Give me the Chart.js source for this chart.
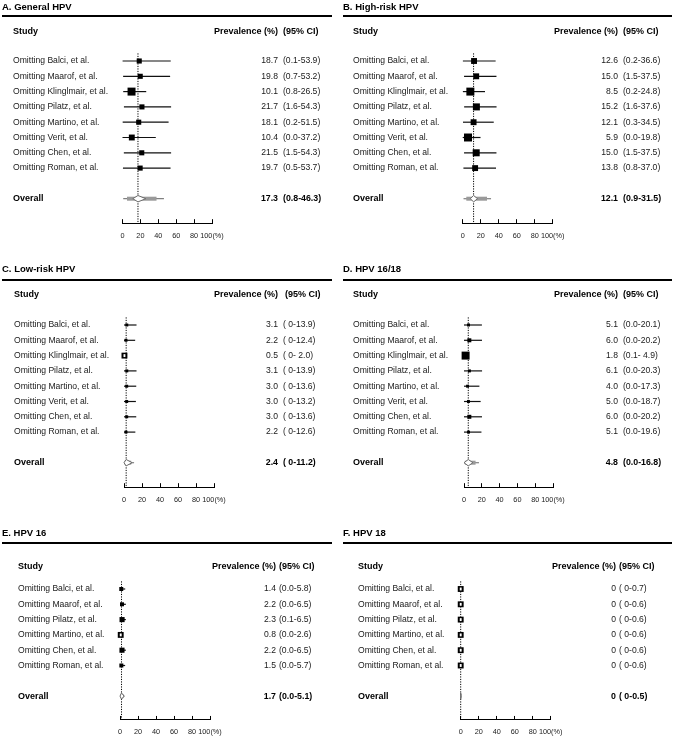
<!DOCTYPE html>
<html lang="en">
<head>
<meta charset="UTF-8">
<title>Leave-one-out HPV prevalence</title>
<script src="https://cdn.jsdelivr.net/npm/chart.js@4.4.0/dist/chart.umd.min.js"></script>
<style>
  body { margin: 0; background: #fff; }
  #page { position: relative; width: 675px; height: 754px; overflow: hidden; }
  #page canvas { position: absolute; }
</style>
</head>
<body>
<div id="page"></div>
<script>
// ---- data ----
const studies8 = ["Omitting Balci, et al.", "Omitting Maarof, et al.", "Omitting Klinglmair, et al.", "Omitting Pilatz, et al.",
                  "Omitting Martino, et al.", "Omitting Verit, et al.", "Omitting Chen, et al.", "Omitting Roman, et al."];
const studies6 = ["Omitting Balci, et al.", "Omitting Maarof, et al.", "Omitting Pilatz, et al.",
                  "Omitting Martino, et al.", "Omitting Chen, et al.", "Omitting Roman, et al."];
const tickValues = [0, 20, 40, 60, 80, 100];
const tickLabels = ["0", "20", "40", "60", "80", "100(%)"];

// A. General HPV
const generalEst = [18.7, 19.8, 10.1, 21.7, 18.1, 10.4, 21.5, 19.7];
const generalLo = [0.1, 0.7, 0.8, 1.6, 0.2, 0.0, 1.5, 0.5];
const generalHi = [53.9, 53.2, 26.5, 54.3, 51.5, 37.2, 54.3, 53.7];
const generalCI = ["(0.1-53.9)", "(0.7-53.2)", "(0.8-26.5)", "(1.6-54.3)", "(0.2-51.5)", "(0.0-37.2)", "(1.5-54.3)", "(0.5-53.7)"];
const generalWeight = [9, 9, 22, 9, 9, 12, 9, 9];
const generalOverall = [17.3, 0.8, 46.3];
const generalOverallCI = "(0.8-46.3)";
const generalBand = [5, 38];
const generalDiamond = [11.5, 26];

// B. High-risk HPV
const highEst = [12.6, 15.0, 8.5, 15.2, 12.1, 5.9, 15.0, 13.8];
const highLo = [0.2, 1.5, 0.2, 1.6, 0.3, 0.0, 1.5, 0.8];
const highHi = [36.6, 37.5, 24.8, 37.6, 34.5, 19.8, 37.5, 37.0];
const highCI = ["(0.2-36.6)", "(1.5-37.5)", "(0.2-24.8)", "(1.6-37.6)", "(0.3-34.5)", "(0.0-19.8)", "(1.5-37.5)", "(0.8-37.0)"];
const highWeight = [12, 12, 22, 17, 12, 22, 17, 12];
const highOverall = [12.1, 0.9, 31.5];
const highOverallCI = "(0.9-31.5)";
const highBand = [4, 27];
const highDiamond = [8.5, 16.5];

// C. Low-risk HPV
const lowEst = [3.1, 2.2, 0.5, 3.1, 3.0, 3.0, 3.0, 2.2];
const lowLo = [0, 0, 0, 0, 0, 0, 0, 0];
const lowHi = [13.9, 12.4, 2.0, 13.9, 13.6, 13.2, 13.6, 12.6];
const lowCI = ["( 0-13.9)", "( 0-12.4)", "( 0- 2.0)", "( 0-13.9)", "( 0-13.6)", "( 0-13.2)", "( 0-13.6)", "( 0-12.6)"];
const lowWeight = [3, 3, 12, 3, 3, 3, 3, 3];
const lowOverall = [2.4, 0, 11.2];
const lowOverallCI = "( 0-11.2)";
const lowBand = [0.5, 8];
const lowDiamond = [0, 9];

// D. HPV 16/18
const hpv1618Est = [5.1, 6.0, 1.8, 6.1, 4.0, 5.0, 6.0, 5.1];
const hpv1618Lo = [0, 0, 0.1, 0, 0, 0, 0, 0];
const hpv1618Hi = [20.1, 20.2, 4.9, 20.3, 17.3, 18.7, 20.2, 19.6];
const hpv1618CI = ["(0.0-20.1)", "(0.0-20.2)", "(0.1- 4.9)", "(0.0-20.3)", "(0.0-17.3)", "(0.0-18.7)", "(0.0-20.2)", "(0.0-19.6)"];
const hpv1618Weight = [3, 5.5, 22, 3, 3, 3, 5.5, 3];
const hpv1618Overall = [4.8, 0, 16.8];
const hpv1618OverallCI = "(0.0-16.8)";
const hpv1618Band = [1, 13];
const hpv1618Diamond = [0, 10];

// E. HPV 16
const hpv16Est = [1.4, 2.2, 2.3, 0.8, 2.2, 1.5];
const hpv16Lo = [0, 0, 0.1, 0, 0, 0];
const hpv16Hi = [5.8, 6.5, 6.5, 2.6, 6.5, 5.7];
const hpv16CI = ["(0.0-5.8)", "(0.0-6.5)", "(0.1-6.5)", "(0.0-2.6)", "(0.0-6.5)", "(0.0-5.7)"];
const hpv16Weight = [5.5, 5.5, 9, 12, 9, 5.5];
const hpv16Overall = [1.7, 0, 5.1];
const hpv16OverallCI = "(0.0-5.1)";
const hpv16Band = [0.3, 4];
const hpv16Diamond = [0, 4.5];

// F. HPV 18
const hpv18Est = [0, 0, 0, 0, 0, 0];
const hpv18Lo = [0, 0, 0, 0, 0, 0];
const hpv18Hi = [0.7, 0.6, 0.6, 0.6, 0.6, 0.6];
const hpv18CI = ["( 0-0.7)", "( 0-0.6)", "( 0-0.6)", "( 0-0.6)", "( 0-0.6)", "( 0-0.6)"];
const hpv18Weight = [12, 12, 12, 12, 12, 12];
const hpv18Overall = [0, 0, 0.5];
const hpv18OverallCI = "( 0-0.5)";
const hpv18Band = [0, 0.5];
const hpv18Diamond = [0, 0.5];

// ---- layout ----
const PITCH = 15.3;
const FONT = '"Liberation Sans", Arial, sans-serif';

function fmtEst(v) { return v === 0 ? '0' : v.toFixed(1); }

function makePanel(L, p) {
  const canvas = document.createElement('canvas');
  canvas.width = L.w; canvas.height = L.h;
  canvas.style.left = L.left + 'px'; canvas.style.top = L.top + 'px';
  document.getElementById('page').appendChild(canvas);

  const n = p.names.length;
  const overallRow = n + 1;
  const datasets = [];

  // boxes (first = drawn on top)
  datasets.push({
    data: p.est.map((v, i) => ({ x: v, y: i })),
    showLine: false, pointStyle: 'rect', clip: false,
    pointRadius: p.weight.map(w => 1.7 * Math.sqrt(w) / Math.SQRT2),
    pointBackgroundColor: '#000', borderColor: '#000', pointBorderWidth: 0
  });
  // study confidence intervals
  for (let i = 0; i < n; i++) {
    datasets.push({ data: [{ x: p.lo[i], y: i }, { x: p.hi[i], y: i }], borderColor: '#111', borderWidth: 1.2, pointRadius: 0, clip: false });
  }
  // overall: band and thin line
  datasets.push({ data: [{ x: p.band[0], y: overallRow }, { x: p.band[1], y: overallRow }], borderColor: '#9a9a9a', borderWidth: 4, pointRadius: 0, clip: false });
  datasets.push({ data: [{ x: p.overall[1], y: overallRow }, { x: p.overall[2], y: overallRow }], borderColor: '#808080', borderWidth: 1.2, pointRadius: 0, clip: false });
  // dotted line at the pooled estimate
  datasets.push({ data: [{ x: p.overall[0], y: -0.5 }, { x: p.overall[0], y: L.yMax }], borderColor: '#000', borderWidth: 1, borderDash: [1.2, 1.3], pointRadius: 0, clip: false });

  const forestText = {
    id: 'forestText',
    afterDatasetsDraw(chart) {
      const ctx = chart.ctx, xs = chart.scales.x, ys = chart.scales.y;
      ctx.save();
      // hollow centre on boxes whose interval is narrower than the box
      ctx.fillStyle = '#fff';
      for (let i = 0; i < n; i++) {
        if (p.hi[i] - p.lo[i] < 3) {
          const s = 1.7 * Math.sqrt(p.weight[i]) - 3;
          const cx = xs.getPixelForValue(p.est[i]), cy = ys.getPixelForValue(i);
          ctx.fillRect(cx - s / 2 + 0.5, cy - s / 2, s - 1, s);
        }
      }
      // overall diamond
      const dy = ys.getPixelForValue(overallRow);
      const dl = xs.getPixelForValue(p.diamond[0]), dr = xs.getPixelForValue(p.diamond[1]);
      const dc = xs.getPixelForValue(p.overall[0]);
      ctx.beginPath();
      ctx.moveTo(dl, dy); ctx.lineTo(dc, dy - 3.2); ctx.lineTo(dr, dy); ctx.lineTo(dc, dy + 3.2); ctx.closePath();
      ctx.fillStyle = '#fff'; ctx.fill();
      ctx.strokeStyle = '#6a6a6a'; ctx.lineWidth = 1; ctx.stroke();
      ctx.restore();
    },
    afterDraw(chart) {
      const ctx = chart.ctx, ys = chart.scales.y;
      ctx.save();
      ctx.textBaseline = 'middle';
      ctx.fillStyle = '#000';
      ctx.font = 'bold 9.5px ' + FONT;
      ctx.textAlign = 'left';
      ctx.fillText(p.title, L.titleX, L.titleY);
      ctx.fillRect(L.ruleX[0], L.ruleY - 1, L.ruleX[1] - L.ruleX[0], 2);

      ctx.font = 'bold 9px ' + FONT;
      ctx.fillText('Study', L.nameX, L.headY);
      ctx.textAlign = 'right';
      ctx.fillText('Prevalence (%)', L.estX, L.headY);
      ctx.textAlign = 'left';
      ctx.fillText('(95% CI)', L.hdrCiX, L.headY);

      ctx.fillStyle = '#1a1a1a';
      ctx.font = '8.6px ' + FONT;
      for (let i = 0; i < n; i++) {
        const y = ys.getPixelForValue(i);
        ctx.textAlign = 'left';
        ctx.fillText(p.names[i], L.nameX, y);
        ctx.textAlign = 'right';
        ctx.fillText(fmtEst(p.est[i]), L.estX, y);
        ctx.textAlign = 'left';
        ctx.fillText(p.ci[i], L.ciX, y);
      }
      const oy = ys.getPixelForValue(overallRow);
      ctx.fillStyle = '#000';
      ctx.font = 'bold 9px ' + FONT;
      ctx.textAlign = 'left';
      ctx.fillText('Overall', L.nameX, oy);
      ctx.font = 'bold 8.8px ' + FONT;
      ctx.textAlign = 'right';
      ctx.fillText(fmtEst(p.overall[0]), L.estX, oy);
      ctx.textAlign = 'left';
      ctx.fillText(p.overallCI, L.ciX, oy);
      ctx.restore();
    }
  };

  const plotBottom = L.row0 + L.yMax * PITCH;
  new Chart(canvas, {
    type: 'line',
    data: { datasets },
    options: {
      responsive: false,
      animation: false,
      events: [],
      layout: { padding: { left: L.x0, right: L.w - L.x100, top: L.row0 - 0.5 * PITCH, bottom: L.h - plotBottom - 20 } },
      plugins: { legend: { display: false }, tooltip: { enabled: false } },
      scales: {
        x: {
          type: 'linear', min: 0, max: 100, position: 'bottom',
          afterFit: s => { s.height = 20; },
          afterBuildTicks: s => { s.ticks = tickValues.map(v => ({ value: v })); },
          ticks: {
            callback: v => tickLabels[tickValues.indexOf(v)],
            font: { family: FONT, size: 7.3 }, color: '#222',
            padding: 12, maxRotation: 0, autoSkip: false
          },
          grid: { drawOnChartArea: false, tickLength: -4, color: '#000', lineWidth: 1 },
          border: { color: '#000', width: 1 }
        },
        y: { type: 'linear', display: false, reverse: true, min: -0.5, max: L.yMax }
      }
    },
    plugins: [forestText]
  });
}

makePanel(
  { left: 0, top: 0, w: 337, h: 263, x0: 122.5, x100: 212, row0: 61, yMax: 10.6, titleX: 2, titleY: 7, ruleY: 16, ruleX: [2, 332], headY: 32, nameX: 13, estX: 278, ciX: 283, hdrCiX: 283 },
  { title: 'A. General HPV', names: studies8, est: generalEst, lo: generalLo, hi: generalHi, ci: generalCI, weight: generalWeight,
    overall: generalOverall, overallCI: generalOverallCI, band: generalBand, diamond: generalDiamond });
makePanel(
  { left: 340, top: 0, w: 335, h: 263, x0: 122.7, x100: 212.7, row0: 61, yMax: 10.6, titleX: 3, titleY: 7, ruleY: 16, ruleX: [3, 332], headY: 32, nameX: 13, estX: 278, ciX: 283, hdrCiX: 283 },
  { title: 'B. High-risk HPV', names: studies8, est: highEst, lo: highLo, hi: highHi, ci: highCI, weight: highWeight,
    overall: highOverall, overallCI: highOverallCI, band: highBand, diamond: highDiamond });
makePanel(
  { left: 0, top: 263, w: 337, h: 264, x0: 124, x100: 214, row0: 62, yMax: 10.6, titleX: 2, titleY: 6, ruleY: 17, ruleX: [2, 332], headY: 32, nameX: 14, estX: 278, ciX: 283, hdrCiX: 285 },
  { title: 'C. Low-risk HPV', names: studies8, est: lowEst, lo: lowLo, hi: lowHi, ci: lowCI, weight: lowWeight,
    overall: lowOverall, overallCI: lowOverallCI, band: lowBand, diamond: lowDiamond });
makePanel(
  { left: 340, top: 263, w: 335, h: 264, x0: 124, x100: 213, row0: 62, yMax: 10.6, titleX: 3, titleY: 6, ruleY: 17, ruleX: [3, 332], headY: 32, nameX: 13, estX: 278, ciX: 283, hdrCiX: 283 },
  { title: 'D. HPV 16/18', names: studies8, est: hpv1618Est, lo: hpv1618Lo, hi: hpv1618Hi, ci: hpv1618CI, weight: hpv1618Weight,
    overall: hpv1618Overall, overallCI: hpv1618OverallCI, band: hpv1618Band, diamond: hpv1618Diamond });
makePanel(
  { left: 0, top: 527, w: 337, h: 227, x0: 120, x100: 210, row0: 62, yMax: 8.56, titleX: 2, titleY: 6, ruleY: 16, ruleX: [2, 332], headY: 40, nameX: 18, estX: 276, ciX: 279, hdrCiX: 279 },
  { title: 'E. HPV 16', names: studies6, est: hpv16Est, lo: hpv16Lo, hi: hpv16Hi, ci: hpv16CI, weight: hpv16Weight,
    overall: hpv16Overall, overallCI: hpv16OverallCI, band: hpv16Band, diamond: hpv16Diamond });
makePanel(
  { left: 340, top: 527, w: 335, h: 227, x0: 120.7, x100: 210.7, row0: 62, yMax: 8.56, titleX: 3, titleY: 6, ruleY: 16, ruleX: [3, 332], headY: 40, nameX: 18, estX: 276, ciX: 279, hdrCiX: 279 },
  { title: 'F. HPV 18', names: studies6, est: hpv18Est, lo: hpv18Lo, hi: hpv18Hi, ci: hpv18CI, weight: hpv18Weight,
    overall: hpv18Overall, overallCI: hpv18OverallCI, band: hpv18Band, diamond: hpv18Diamond });
</script>
</body>
</html>
